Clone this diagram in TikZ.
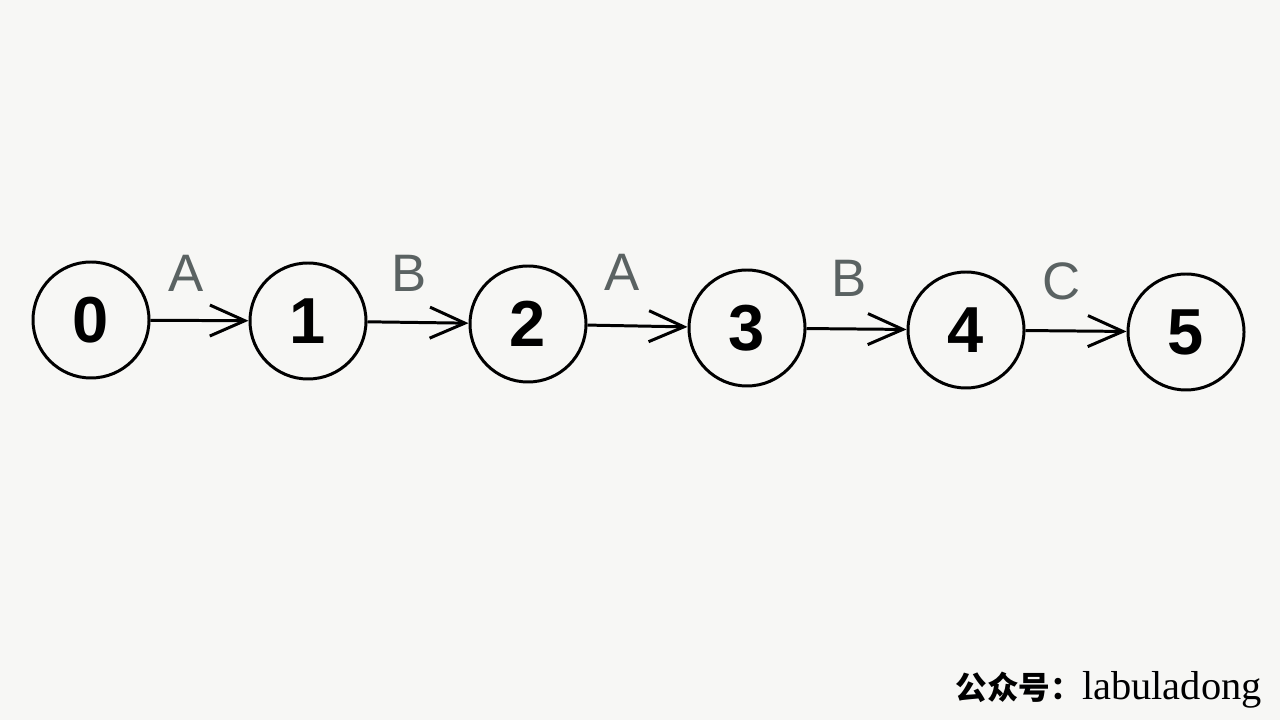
\documentclass[tikz,border=0pt]{standalone}
\usepackage{fontspec}
\setmainfont{Liberation Sans}
\newfontfamily\cjkfont{Noto Sans CJK SC}
\newfontfamily\wmfont{Liberation Serif}
\usetikzlibrary{arrows.meta}
\definecolor{paper}{RGB}{247,247,245}
\definecolor{labelgrey}{RGB}{90,98,98}
\begin{document}
\begin{tikzpicture}[circ/.style={circle,draw,line width=1.7pt,minimum size=2.32cm,inner sep=0pt,font=\fontsize{37}{37}\selectfont\bfseries},
	lbl/.style={text=labelgrey,font=\fontsize{30}{30}\selectfont},
	>={Straight Barb[length=0.7cm,width=0.62cm,line width=1.7pt]}]
\fill[paper] (0,0) rectangle (25.6,14.4);
\useasboundingbox (0,0) rectangle (25.6,14.4);

\foreach \n/\x/\y in {0/1.82/8.0,1/6.16/7.98,2/10.56/7.92,3/14.94/7.84,4/19.32/7.80,5/23.72/7.76}
	\node[circ] at (\x,\y) (\n) {\n};

\draw[->,line width=1.7pt] (0) -- (1) node [lbl, midway, xshift=-0.27cm, yshift=0.94cm] {A};
\draw[->,line width=1.7pt] (1) -- (2) node [lbl, midway, xshift=-0.17cm, yshift=0.98cm] {B};
\draw[->,line width=1.7pt] (2) -- (3) node [lbl, midway, xshift=-0.31cm, yshift=1.08cm] {A};
\draw[->,line width=1.7pt] (3) -- (4) node [lbl, midway, xshift=-0.15cm, yshift=1.02cm] {B};
\draw[->,line width=1.7pt] (4) -- (5) node [lbl, midway, xshift=-0.28cm, yshift=1.0cm] {C};

% watermark
\node[anchor=base east,inner sep=0pt] (wm) at (25.24,0.42) {{\cjkfont\fontsize{18}{18}\selectfont\bfseries 公众号：}{\wmfont\fontsize{23}{23}\selectfont labuladong}};
\end{tikzpicture}
\end{document}
